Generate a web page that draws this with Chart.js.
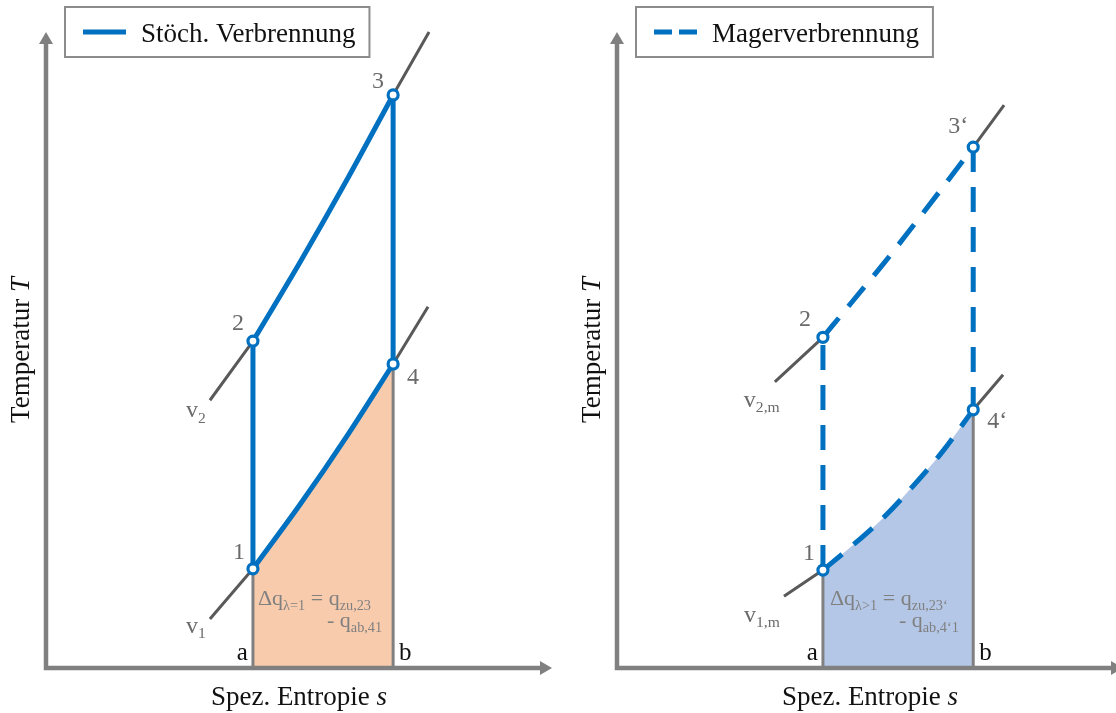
<!DOCTYPE html>
<html>
<head>
<meta charset="utf-8">
<script src="https://cdn.jsdelivr.net/npm/chart.js@4.4.1/dist/chart.umd.min.js"></script>
<style>
    html, body { margin: 0; padding: 0; background: #fff; overflow: hidden; }
    #wrap { position: relative; width: 1116px; height: 713px; overflow: hidden; }
    canvas { position: absolute; top: 0; }
</style>
</head>
<body>
<div id="wrap">
    <canvas id="stoech" width="571" height="713" style="left:0"></canvas>
    <canvas id="mager" width="571" height="713" style="left:571px"></canvas>
</div>
<script>
// Achsen (willkürliche Einheiten)
const S_MAX = 10;
const T_MAX = 1000;

// Stöchiometrische Verbrennung: s von a nach b
const stS   = [4.09, 5.02, 5.95, 6.86];
const stT23 = [514, 638, 768, 901];     // 2 -> 3 auf v2
const stT14 = [156, 257, 365, 478];     // 1 -> 4 auf v1
// Isochoren-Enden (unten, oben)
const stV1S = [3.24, 7.55];
const stV1T = [77, 568];
const stV2S = [3.24, 7.57];
const stV2T = [421, 1000];

// Magerverbrennung
const mgS   = [4.07, 4.66, 5.26, 5.85, 6.44, 7.04];
const mgT23 = [520, 577, 635, 695, 756, 819];   // 2 -> 3'
const mgT14 = [154, 193, 236, 286, 341, 406];   // 1 -> 4'
const mgV1S = [3.30, 7.63];
const mgV1T = [113, 461];
const mgV2S = [3.12, 7.65];
const mgV2T = [450, 885];

const BLUE = '#0070C0';
const ISO_GREY = '#595959';
const AXIS_GREY = '#808080';
const LABEL_GREY = '#6a6a6a';
const SERIF = '"Liberation Serif", "Times New Roman", serif';

const pt = (x, y) => ({ x, y });
const gap = { x: 0, y: null };

function buildDatasets(s, t23, t14, v1s, v1t, v2s, v2t, fillColor, dashed) {
    const n = s.length - 1;
    const dash = dashed ? [25, 15] : [];
    const line = {
        showLine: true, pointRadius: 0, borderColor: BLUE, borderWidth: 5,
        borderDash: dash, clip: false, fill: false
    };
    return [
        {   // Zustandspunkte 1, 2, 3, 4
            data: [pt(s[0], t14[0]), pt(s[0], t23[0]), pt(s[n], t23[n]), pt(s[n], t14[n])],
            showLine: false, pointRadius: 5, pointBorderWidth: 3.2,
            pointBackgroundColor: '#fff', pointBorderColor: BLUE, clip: false
        },
        { ...line, data: s.map((x, i) => pt(x, t23[i])), cubicInterpolationMode: 'monotone' },
        { ...line, data: s.map((x, i) => pt(x, t14[i])), cubicInterpolationMode: 'monotone' },
        {   // Verdichtung 1-2 und Expansion 3-4
            ...line, tension: 0,
            data: [pt(s[0], t14[0]), pt(s[0], t23[0]), gap, pt(s[n], t23[n]), pt(s[n], t14[n])]
        },
        {   // Linien a und b
            showLine: true, pointRadius: 0, borderColor: AXIS_GREY, borderWidth: 3, clip: false,
            data: [pt(s[0], 0), pt(s[0], t14[0]), gap, pt(s[n], 0), pt(s[n], t14[n])]
        },
        {   // Isochoren v1, v2
            showLine: true, pointRadius: 0, borderColor: ISO_GREY, borderWidth: 3, clip: false,
            data: [pt(v1s[0], v1t[0]), pt(s[0], t14[0]), gap, pt(s[n], t14[n]), pt(v1s[1], v1t[1]), gap,
                   pt(v2s[0], v2t[0]), pt(s[0], t23[0]), gap, pt(s[n], t23[n]), pt(v2s[1], v2t[1])]
        },
        {   // Fläche unter 1-4
            showLine: true, pointRadius: 0, borderWidth: 0, borderColor: 'rgba(0,0,0,0)',
            backgroundColor: fillColor, fill: 'origin', cubicInterpolationMode: 'monotone', clip: false,
            data: s.map((x, i) => pt(x, t14[i]))
        }
    ];
}

function drawRich(ctx, x, y, parts, size, color) {
    let cx = x;
    ctx.fillStyle = color;
    ctx.textBaseline = 'alphabetic';
    ctx.textAlign = 'left';
    parts.forEach(([txt, sub, ital]) => {
        const fs = sub ? size * 0.65 : size;
        ctx.font = (ital ? 'italic ' : '') + fs + 'px ' + SERIF;
        ctx.fillText(txt, cx, y + (sub ? size * 0.22 : 0));
        cx += ctx.measureText(txt).width;
    });
    return cx - x;
}

function richWidth(ctx, parts, size) {
    let w = 0;
    parts.forEach(([txt, sub, ital]) => {
        const fs = sub ? size * 0.65 : size;
        ctx.font = (ital ? 'italic ' : '') + fs + 'px ' + SERIF;
        w += ctx.measureText(txt).width;
    });
    return w;
}

const decor = {
    id: 'decor',
    afterDatasetsDraw(chart, args, opts) {
        const ctx = chart.ctx;
        const xs = chart.scales.x, ys = chart.scales.y;
        const x0 = xs.getPixelForValue(0), y0 = ys.getPixelForValue(0);
        const xEnd = xs.getPixelForValue(S_MAX), yEnd = ys.getPixelForValue(T_MAX);
        ctx.save();
        ctx.strokeStyle = AXIS_GREY;
        ctx.fillStyle = AXIS_GREY;
        ctx.lineWidth = 4.5;
        ctx.beginPath();
        ctx.moveTo(x0, y0 + 2.2);
        ctx.lineTo(x0, yEnd + 10);
        ctx.moveTo(x0 - 2.2, y0);
        ctx.lineTo(xEnd - 10, y0);
        ctx.stroke();
        ctx.beginPath();
        ctx.moveTo(x0, yEnd);
        ctx.lineTo(x0 - 7, yEnd + 12);
        ctx.lineTo(x0 + 7, yEnd + 12);
        ctx.closePath();
        ctx.fill();
        ctx.beginPath();
        ctx.moveTo(xEnd, y0);
        ctx.lineTo(xEnd - 12, y0 - 7);
        ctx.lineTo(xEnd - 12, y0 + 7);
        ctx.closePath();
        ctx.fill();
        ctx.restore();
    },
    afterDraw(chart, args, opts) {
        const ctx = chart.ctx;
        const xs = chart.scales.x, ys = chart.scales.y;
        const px = v => xs.getPixelForValue(v), py = v => ys.getPixelForValue(v);
        ctx.save();

        // Legende
        ctx.font = '27px ' + SERIF;
        const tw = ctx.measureText(opts.legend).width;
        ctx.strokeStyle = '#8c8c8c';
        ctx.lineWidth = 2;
        ctx.strokeRect(65, 7, 141 + tw + 14 - 65, 50);
        ctx.strokeStyle = BLUE;
        ctx.lineWidth = 5;
        ctx.setLineDash(opts.dashed ? [18, 7] : []);
        ctx.beginPath();
        ctx.moveTo(83, 32);
        ctx.lineTo(126, 32);
        ctx.stroke();
        ctx.setLineDash([]);
        ctx.fillStyle = '#111';
        ctx.textBaseline = 'alphabetic';
        ctx.fillText(opts.legend, 141, 42);

        // Achsentitel
        const yParts = [['Temperatur '], ['T', false, true]];
        const yw = richWidth(ctx, yParts, 27);
        ctx.save();
        ctx.translate(29, 350 + yw / 2);
        ctx.rotate(-Math.PI / 2);
        drawRich(ctx, 0, 0, yParts, 27, '#111');
        ctx.restore();
        const xParts = [['Spez. Entropie '], ['s', false, true]];
        const xw = richWidth(ctx, xParts, 27);
        drawRich(ctx, 299 - xw / 2, 705, xParts, 27, '#111');

        // Beschriftungen an Punkten
        opts.labels.forEach(l => {
            const x = px(l.at[0]) + l.dx, y = py(l.at[1]) + l.dy;
            const w = richWidth(ctx, l.parts, l.size);
            const sx = l.align === 'center' ? x - w / 2 : l.align === 'right' ? x - w : x;
            drawRich(ctx, sx, y, l.parts, l.size, l.color);
        });
        ctx.restore();
    }
};

function makeChart(id, datasets, decorOpts) {
    return new Chart(document.getElementById(id), {
        type: 'scatter',
        data: { datasets },
        options: {
            responsive: false,
            animation: false,
            events: [],
            layout: { padding: { left: 46, right: 19, top: 32, bottom: 45 } },
            scales: {
                x: { type: 'linear', min: 0, max: S_MAX, display: false },
                y: { type: 'linear', min: 0, max: T_MAX, display: false }
            },
            plugins: {
                legend: { display: false },
                tooltip: { enabled: false },
                decor: decorOpts
            }
        },
        plugins: [decor]
    });
}

function labelsFor(s, t23, t14, v1s, v1t, v2s, v2t, names) {
    const n = s.length - 1;
    const g = LABEL_GREY;
    return [
        { at: [s[0], t14[0]], dx: -14, dy: -10, parts: [[names.p1]], size: 24, color: g, align: 'center' },
        { at: [s[0], t23[0]], dx: names.d2, dy: -11, parts: [[names.p2]], size: 24, color: g, align: 'center' },
        { at: [s[n], t23[n]], dx: names.d3, dy: names.y3, parts: [[names.p3]], size: 24, color: g, align: 'left' },
        { at: [s[n], t14[n]], dx: 14, dy: names.y4, parts: [[names.p4]], size: 24, color: g, align: 'left' },
        { at: [v2s[0], v2t[0]], dx: names.v2dx, dy: names.v2dy, parts: [['v'], [names.v2, true]], size: 24, color: g, align: 'left' },
        { at: [v1s[0], v1t[0]], dx: names.v1dx, dy: names.v1dy, parts: [['v'], [names.v1, true]], size: 24, color: g, align: 'left' },
        { at: [s[0], 0], dx: -5, dy: -8, parts: [['a']], size: 25, color: '#111', align: 'right' },
        { at: [s[n], 0], dx: 6, dy: -8, parts: [['b']], size: 25, color: '#111', align: 'left' },
        { at: [s[0], 0], dx: names.qdx, dy: -63, parts: names.q1, size: 22, color: '#808080', align: 'left' },
        { at: [s[0], 0], dx: names.qdx + 69, dy: -41, parts: names.q2, size: 22, color: '#808080', align: 'left' }
    ];
}

makeChart('stoech',
    buildDatasets(stS, stT23, stT14, stV1S, stV1T, stV2S, stV2T, '#F8CBAD', false),
    {
        legend: 'Stöch. Verbrennung', dashed: false,
        labels: labelsFor(stS, stT23, stT14, stV1S, stV1T, stV2S, stV2T, {
            p1: '1', p2: '2', p3: '3', p4: '4', d2: -15, d3: -21, y3: -7, y4: 20,
            v1: '1', v2: '2', v1dx: -24, v1dy: 14, v2dx: -24, v2dy: 17, qdx: 5,
            q1: [['Δq'], ['λ=1', true], [' = q'], ['zu,23', true]],
            q2: [['- q'], ['ab,41', true]]
        })
    });

makeChart('mager',
    buildDatasets(mgS, mgT23, mgT14, mgV1S, mgV1T, mgV2S, mgV2T, '#B4C7E7', true),
    {
        legend: 'Magerverbrennung', dashed: true,
        labels: labelsFor(mgS, mgT23, mgT14, mgV1S, mgV1T, mgV2S, mgV2T, {
            p1: '1', p2: '2', p3: '3‘', p4: '4‘', d2: -18, d3: -25, y3: -14, y4: 18,
            v1: '1,m', v2: '2,m', v1dx: -40, v1dy: 26, v2dx: -31, v2dy: 25, qdx: 7,
            q1: [['Δq'], ['λ>1', true], [' = q'], ['zu,23‘', true]],
            q2: [['- q'], ['ab,4‘1', true]]
        })
    });
</script>
</body>
</html>
